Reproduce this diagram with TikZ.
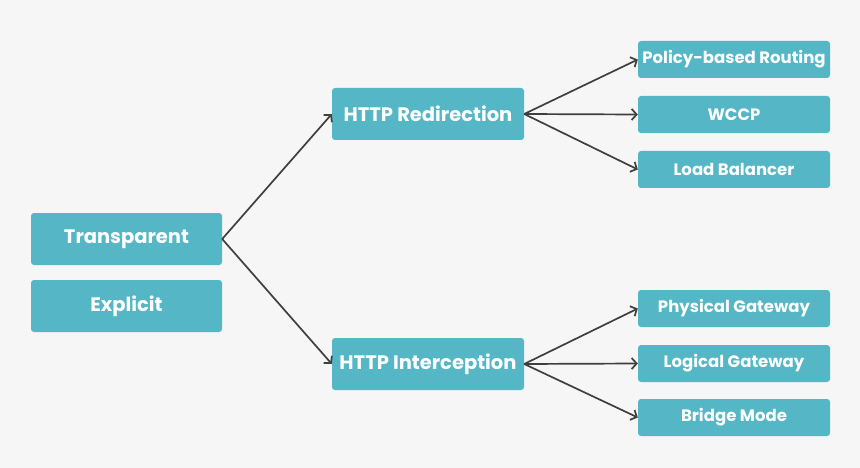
\documentclass[tikz,border=0pt]{standalone}
\usepackage{fontspec}
\setmainfont{Poppins}
\usetikzlibrary{arrows.meta}
\definecolor{tealbox}{HTML}{55B7C6}
\definecolor{pagebg}{HTML}{F6F6F6}
\definecolor{wire}{HTML}{3F3F3F}
\tikzset{
  bigbox/.style={fill=tealbox, draw=none, rounded corners=3pt, minimum width=191pt, minimum height=52pt, inner sep=0pt, text=white, font=\bfseries\fontsize{19.5}{22}\selectfont},
  smallbox/.style={fill=tealbox, draw=none, rounded corners=3pt, minimum width=192pt, minimum height=37pt, inner sep=0pt, text=white, font=\bfseries\fontsize{16.5}{19}\selectfont},
  wirearrow/.style={draw=wire, line width=1.7pt, -{Straight Barb[length=5pt,width=11pt]}},
}
\begin{document}
\begin{tikzpicture}[x=1pt,y=-1pt]
\useasboundingbox (0,0) rectangle (860,468);
\fill[pagebg] (0,0) rectangle (860,468);
\node[bigbox] (transparent) at (126.5,239) {Transparent};
\node[bigbox] (explicit) at (126.5,306) {Explicit};
\node[bigbox, minimum width=192pt] (redirect) at (428,114) {HTTP Redirection};
\node[bigbox, minimum width=192pt] (intercept) at (428,364) {HTTP Interception};
\node[smallbox] (pbr) at (734,59.5) {Policy-based Routing};
\node[smallbox] (wccp) at (734,114.5) {WCCP};
\node[smallbox] (loadbal) at (734,169.5) {Load Balancer};
\node[smallbox] (physgw) at (734,308.5) {Physical Gateway};
\node[smallbox] (loggw) at (734,363.5) {Logical Gateway};
\node[smallbox] (bridge) at (734,417.5) {Bridge Mode};
\draw[wirearrow] (transparent.east) -- (redirect.west);
\draw[wirearrow] (transparent.east) -- (intercept.west);
\draw[wirearrow] (redirect.east) -- (pbr.west);
\draw[wirearrow] (redirect.east) -- (wccp.west);
\draw[wirearrow] (redirect.east) -- (loadbal.west);
\draw[wirearrow] (intercept.east) -- (physgw.west);
\draw[wirearrow] (intercept.east) -- (loggw.west);
\draw[wirearrow] (intercept.east) -- (bridge.west);
\end{tikzpicture}
\end{document}
